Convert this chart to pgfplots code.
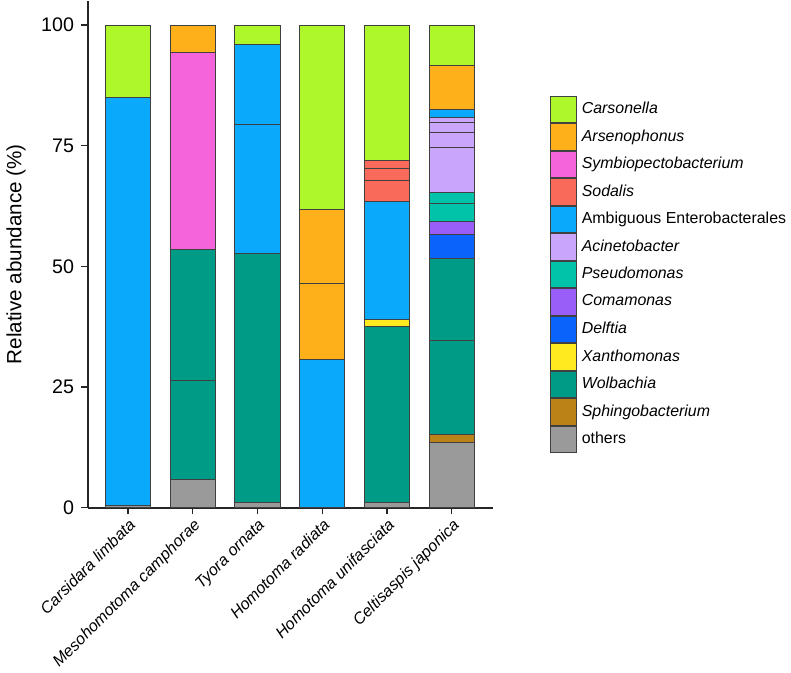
\documentclass[border=0pt]{standalone}
\usepackage{pgfplots}
\pgfplotsset{compat=1.18}
\usepackage{fontspec}
\setmainfont{Liberation Sans}

\definecolor{cCars}{HTML}{ADF72A}
\definecolor{cArse}{HTML}{FEB01A}
\definecolor{cSymb}{HTML}{F664DC}
\definecolor{cSoda}{HTML}{F96A5A}
\definecolor{cAmbi}{HTML}{0AA9FC}
\definecolor{cAcin}{HTML}{C9A6FB}
\definecolor{cPseu}{HTML}{00C3AA}
\definecolor{cComa}{HTML}{9A5EF8}
\definecolor{cDelf}{HTML}{0A64FC}
\definecolor{cXant}{HTML}{FFE91F}
\definecolor{cWolb}{HTML}{009B86}
\definecolor{cSphi}{HTML}{BB8217}
\definecolor{cOthe}{HTML}{9A9A9A}

\begin{document}
\begin{tikzpicture}
\begin{axis}[
  scale only axis,
  width=206.5pt, height=258pt,
  ybar stacked,
  bar width=23pt,
  xmin=-0.62, xmax=5.64,
  ymin=0, ymax=105,
  axis lines=left,
  axis line style={-, line width=1pt, black!85},
  ytick={0,25,50,75,100},
  xtick={0,1,2,3,4,5},
  xticklabels={Carsidara limbata, Mesohomotoma camphorae, Tyora ornata,
    Homotoma radiata, Homotoma unifasciata, Celtisaspis japonica},
  x tick label style={rotate=45, anchor=north east, font=\fontsize{8.2}{9}\selectfont\itshape, inner sep=1pt},
  y tick label style={font=\fontsize{10}{12}\selectfont},
  /pgf/number format/assume math mode=true,
  tick style={black!85, line width=0.7pt},
  tick align=outside,
  major tick length=3.5pt,
  ylabel={Relative abundance (\%)},
  ylabel style={font=\fontsize{10.5}{12}\selectfont, yshift=1pt},
  every axis plot/.append style={draw=black!75, line width=0.5pt},
  legend image code/.code={\draw[#1] (0pt,-6.75pt) rectangle (13pt,6.75pt);},
  reverse legend,
  legend cell align=left,
  legend style={at={(1.14,0.814)}, anchor=north west, draw=none, fill=none,
    inner sep=0pt, row sep=0pt,
    font=\fontsize{8.1}{9}\selectfont,
    nodes={inner ysep=0pt, inner xsep=2.5pt, minimum height=13.5pt}},
]
% bottom to top; duplicates of a genus are separate OTU segments
\addplot[fill=cOthe] coordinates {(0,0.4) (1,5.8) (2,1.0) (3,0) (4,1.0) (5,13.4)};
\addlegendentry{others}
\addplot[fill=cSphi] coordinates {(0,0) (1,0) (2,0) (3,0) (4,0) (5,1.8)};
\addlegendentry{\itshape Sphingobacterium}
\addplot[fill=cWolb] coordinates {(0,0) (1,20.6) (2,51.6) (3,0) (4,36.5) (5,19.5)};
\addlegendentry{\itshape Wolbachia}
\addplot[fill=cWolb, forget plot] coordinates {(0,0) (1,27.0) (2,0) (3,0) (4,0) (5,16.9)};
\addplot[fill=cXant] coordinates {(0,0) (1,0) (2,0) (3,0) (4,1.5) (5,0)};
\addlegendentry{\itshape Xanthomonas}
\addplot[fill=cDelf] coordinates {(0,0) (1,0) (2,0) (3,0) (4,0) (5,5.1)};
\addlegendentry{\itshape Delftia}
\addplot[fill=cComa] coordinates {(0,0) (1,0) (2,0) (3,0) (4,0) (5,2.6)};
\addlegendentry{\itshape Comamonas}
\addplot[fill=cPseu] coordinates {(0,0) (1,0) (2,0) (3,0) (4,0) (5,3.7)};
\addlegendentry{\itshape Pseudomonas}
\addplot[fill=cPseu, forget plot] coordinates {(0,0) (1,0) (2,0) (3,0) (4,0) (5,2.4)};
\addplot[fill=cAcin] coordinates {(0,0) (1,0) (2,0) (3,0) (4,0) (5,9.2)};
\addlegendentry{\itshape Acinetobacter}
\addplot[fill=cAcin, forget plot] coordinates {(0,0) (1,0) (2,0) (3,0) (4,0) (5,3.1)};
\addplot[fill=cAcin, forget plot] coordinates {(0,0) (1,0) (2,0) (3,0) (4,0) (5,2.1)};
\addplot[fill=cAcin, forget plot] coordinates {(0,0) (1,0) (2,0) (3,0) (4,0) (5,1.1)};
\addplot[fill=cAmbi] coordinates {(0,84.6) (1,0) (2,26.8) (3,30.7) (4,24.4) (5,1.7)};
\addlegendentry{Ambiguous Enterobacterales}
\addplot[fill=cAmbi, forget plot] coordinates {(0,0) (1,0) (2,16.6) (3,0) (4,0) (5,0)};
\addplot[fill=cSoda] coordinates {(0,0) (1,0) (2,0) (3,0) (4,4.3) (5,0)};
\addlegendentry{\itshape Sodalis}
\addplot[fill=cSoda, forget plot] coordinates {(0,0) (1,0) (2,0) (3,0) (4,2.6) (5,0)};
\addplot[fill=cSoda, forget plot] coordinates {(0,0) (1,0) (2,0) (3,0) (4,1.7) (5,0)};
\addplot[fill=cSymb] coordinates {(0,0) (1,41.0) (2,0) (3,0) (4,0) (5,0)};
\addlegendentry{\itshape Symbiopectobacterium}
\addplot[fill=cArse] coordinates {(0,0) (1,5.6) (2,0) (3,15.8) (4,0) (5,9.0)};
\addlegendentry{\itshape Arsenophonus}
\addplot[fill=cArse, forget plot] coordinates {(0,0) (1,0) (2,0) (3,15.2) (4,0) (5,0)};
\addplot[fill=cCars] coordinates {(0,15.0) (1,0) (2,4.0) (3,38.3) (4,28.0) (5,8.4)};
\addlegendentry{\itshape Carsonella}
\end{axis}
\end{tikzpicture}
\end{document}
